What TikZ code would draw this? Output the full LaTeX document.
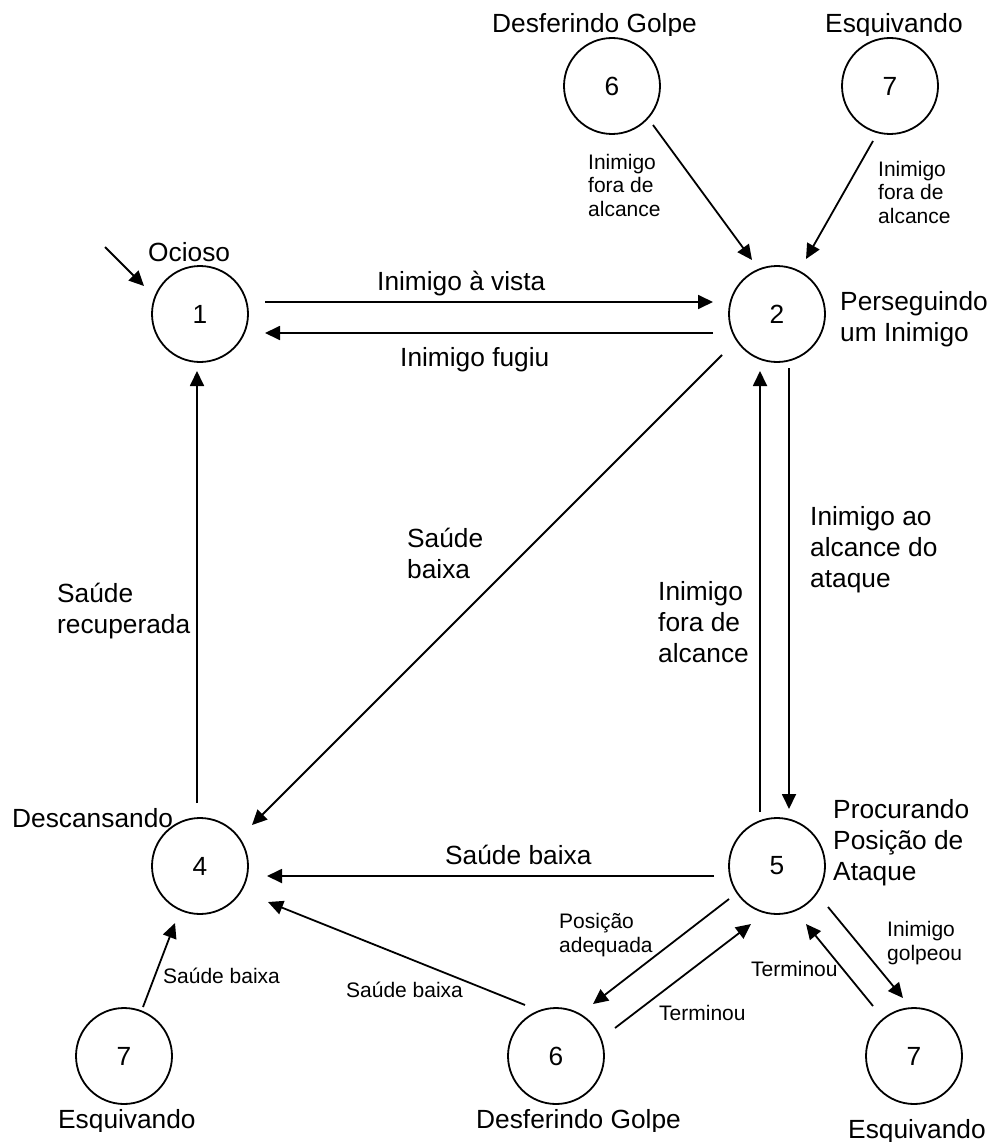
\documentclass[tikz,border=0pt]{standalone}
\usepackage{fontspec}
\setmainfont{Liberation Sans}
\usetikzlibrary{arrows.meta}
\newcommand\mainsz{\fontsize{26.3}{30.8}\selectfont}
\newcommand\smallsz{\fontsize{21}{23.5}\selectfont}
\begin{document}
\begin{tikzpicture}[x=1pt,y=-1pt,
  state/.style={circle,draw,line width=1.8pt,minimum size=96pt,inner sep=0pt,font=\mainsz},
  lab/.style={inner sep=0pt,anchor=base west,align=left,font=\mainsz},
  slab/.style={inner sep=0pt,anchor=base west,align=left,font=\smallsz},
  arr/.style={line width=1.8pt,-{Triangle[length=15pt,width=14pt]}}]
\useasboundingbox (0,0) rectangle (991,1142);

% states
\node[state] (c1) at (200,314) {1};
\node[state] (c2) at (777,314) {2};
\node[state] (c6t) at (612,86) {6};
\node[state] (c7t) at (890,86) {7};
\node[state] (c4) at (200,866) {4};
\node[state] (c5) at (777,866) {5};
\node[state] (c7bl) at (124,1056) {7};
\node[state] (c6b) at (556,1056) {6};
\node[state] (c7br) at (914,1056) {7};

% state names (multi-line nodes are placed by the baseline of their last line)
\node[lab] (nOcioso) at (148,261) {Ocioso};
\node[lab] (nPers) at (840,341) {Perseguindo\\um Inimigo};
\node[lab] (nDesc) at (12,827) {Descansando};
\node[lab] (nProc) at (833,880) {Procurando\\Posição de\\Ataque};
\begin{scope}
  \clip (0,0) rectangle (991,36);
  \node[lab] (nDesfT) at (492,33) {Desferindo Golpe};
  \node[lab] (nEsqT) at (825,33) {Esquivando};
\end{scope}
\begin{scope}
  \clip (0,1000) rectangle (991,1131);
  \node[lab] (nEsqL) at (58,1128) {Esquivando};
  \node[lab] (nDesfB) at (476,1128) {Desferindo Golpe};
\end{scope}
\node[lab] (nEsqR) at (848,1138) {Esquivando};

% initial arrow
\coordinate (init) at (105,247);
\draw[arr] (init) -- ([shift={(-56,-28)}]c1.center);

% connectors
\draw[arr] ([shift={(65,-12)}]c1.center) -- ([shift={(-64,-12)}]c2.center);
\draw[arr] ([shift={(-64,19)}]c2.center) -- ([shift={(65,19)}]c1.center);
\draw[arr] ([shift={(41,39)}]c6t.center) -- ([shift={(-25,-54)}]c2.center);
\draw[arr] ([shift={(-17,55)}]c7t.center) -- ([shift={(29,-55)}]c2.center);
\draw[arr] ([shift={(-55,41)}]c2.center) -- ([shift={(52,-41)}]c4.center);
\draw[arr] ([shift={(-3,-63)}]c4.center) -- ([shift={(-3,57)}]c1.center);
\draw[arr] ([shift={(12,54)}]c2.center) -- ([shift={(12,-57)}]c5.center);
\draw[arr] ([shift={(-17,-54)}]c5.center) -- ([shift={(-17,57)}]c2.center);
\draw[arr] ([shift={(-63,10)}]c5.center) -- ([shift={(67,10)}]c4.center);
\draw[arr] ([shift={(-31,-51)}]c6b.center) -- ([shift={(68,36)}]c4.center);
\draw[arr] ([shift={(19,-49)}]c7bl.center) -- ([shift={(-25,57)}]c4.center);
\draw[arr] ([shift={(-48,33)}]c5.center) -- ([shift={(37,-52)}]c6b.center);
\draw[arr] ([shift={(59,-28)}]c6b.center) -- ([shift={(-26,58)}]c5.center);
\draw[arr] ([shift={(51,41)}]c5.center) -- ([shift={(-11,-58)}]c7br.center);
\draw[arr] ([shift={(-41,-50)}]c7br.center) -- ([shift={(29,58)}]c5.center);

% transition labels
\node[lab] (tVista) at (377,290) {Inimigo à vista};
\node[lab] (tFugiu) at (400,366) {Inimigo fugiu};
\node[slab] (tForaA) at (588,216) {Inimigo\\fora de\\alcance};
\node[slab] (tForaB) at (878,223) {Inimigo\\fora de\\alcance};
\node[lab] (tSB1) at (407,578) {Saúde\\baixa};
\node[lab] (tRec) at (57,633) {Saúde\\recuperada};
\node[lab] (tAlc) at (810,587) {Inimigo ao\\alcance do\\ataque};
\node[lab] (tFora) at (658,662) {Inimigo\\fora de\\alcance};
\node[lab] (tSB2) at (445,864) {Saúde baixa};
\node[slab] (tSB3) at (163,983) {Saúde baixa};
\node[slab] (tSB4) at (346,997) {Saúde baixa};
\node[slab] (tPos) at (559,952) {Posição\\adequada};
\node[slab] (tTerm1) at (659,1020) {Terminou};
\node[slab] (tGolp) at (887,960) {Inimigo\\golpeou};
\node[slab] (tTerm2) at (751,976) {Terminou};
\end{tikzpicture}
\end{document}
